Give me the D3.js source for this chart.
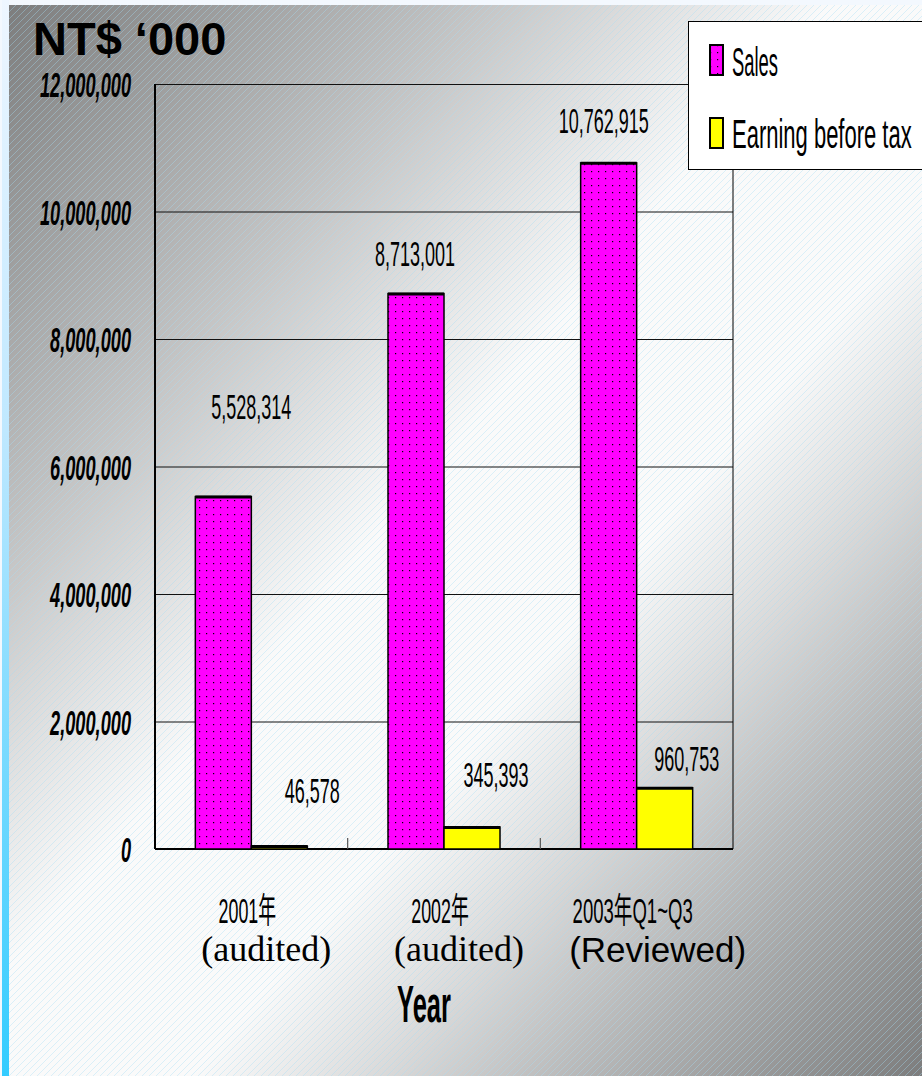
<!DOCTYPE html>
<html>
<head>
<meta charset="utf-8">
<script src="https://cdn.jsdelivr.net/npm/d3@7"></script>
<style>
  html, body { margin: 0; padding: 0; background: #f3f8fe; }
  svg { display: block; }
</style>
</head>
<body>
<svg id="chart" width="922" height="1076"></svg>
<script>
// ---- data ----
const categories = ["2001年", "2002年", "2003年Q1~Q3"];
const categoryNotes = ["(audited)", "(audited)", "(Reviewed)"];
const seriesNames = ["Sales", "Earning before tax"];
const sales = [5528314, 8713001, 10762915];
const earnings = [46578, 345393, 960753];
const yTicks = [0, 2000000, 4000000, 6000000, 8000000, 10000000, 12000000];
const unitLabel = "NT$ \u2018000";
const axisTitle = "Year";

// ---- layout ----
const W = 922, H = 1076;
const plot = { left: 155, right: 733, top: 84, bottom: 849 };
// value-label nudges relative to the top centre of each bar, [dx, dy]
const salesLabelNudge = [[28, -78], [-1, -28], [-5, -30]];
const earningsLabelNudge = [[33, -43], [24, -40], [22, -17]];

const SANS = "'Liberation Sans', Arial, 'Noto Sans CJK TC', sans-serif";
const SERIF = "'Liberation Serif', 'Times New Roman', serif";
const colors = { Sales: "#ff00ff", "Earning before tax": "#ffff00" };

const svg = d3.select("#chart");
const defs = svg.append("defs");

// background gradient: grey corners, white diagonal band
const bg = defs.append("linearGradient").attr("id", "bgGrad")
  .attr("x1", 0).attr("y1", 0).attr("x2", 1).attr("y2", 1);
[[0, "#7d7d7d"], [0.45, "#fafafa"], [0.6, "#fafafa"], [1, "#7d7d7d"]]
  .forEach(([o, c]) => bg.append("stop").attr("offset", o).attr("stop-color", c));

// edge strip gradient
const strip = defs.append("linearGradient").attr("id", "stripGrad")
  .attr("x1", 0).attr("y1", 0).attr("x2", 0).attr("y2", 1);
[[0, "#eef6ff"], [0.4, "#bfe8ff"], [1, "#33ccff"]]
  .forEach(([o, c]) => strip.append("stop").attr("offset", o).attr("stop-color", c));

// diagonal hatch
const hatch = defs.append("pattern").attr("id", "hatch")
  .attr("patternUnits", "userSpaceOnUse").attr("width", 7).attr("height", 7);
hatch.append("path").attr("d", "M-1,1 L1,-1 M0,7 L7,0 M6,8 L8,6")
  .attr("stroke", "#a6def4").attr("stroke-width", 1).attr("stroke-opacity", 0.38);

// dotted fill for sales bars
const dots = defs.append("pattern").attr("id", "salesDots")
  .attr("patternUnits", "userSpaceOnUse").attr("width", 7).attr("height", 7);
dots.append("rect").attr("width", 7).attr("height", 7).attr("fill", colors.Sales);
dots.append("rect").attr("x", 3).attr("y", 3).attr("width", 1.2).attr("height", 1.2).attr("fill", "#000");

// ---- background ----
svg.append("rect").attr("x", 2).attr("y", 0).attr("width", 7).attr("height", H).attr("fill", "url(#stripGrad)");
svg.append("rect").attr("x", 9).attr("y", 5).attr("width", W - 9).attr("height", H - 5).attr("fill", "url(#bgGrad)");
svg.append("rect").attr("x", 9).attr("y", 5).attr("width", W - 9).attr("height", H - 5).attr("fill", "url(#hatch)");

// ---- scales ----
const x0 = d3.scaleBand().domain(categories).range([plot.left, plot.right]).paddingInner(0).paddingOuter(0);
const x1 = d3.scaleBand().domain(seriesNames).range([0, x0.bandwidth()]).paddingInner(0).paddingOuter(0.72);
const y = d3.scaleLinear().domain([0, 12000000]).range([plot.bottom, plot.top]);

// condensed text helper
function squeezed(parent, x, yy, str, opts) {
  const o = Object.assign({ size: 36, sx: 0.5, weight: "normal", style: "normal", anchor: "start", family: SANS }, opts);
  const g = parent.append("g").attr("transform", `translate(${x},${yy}) scale(${o.sx},1)`);
  return g.append("text")
    .attr("font-family", o.family).attr("font-size", o.size)
    .attr("font-weight", o.weight).attr("font-style", o.style)
    .attr("text-anchor", o.anchor).attr("fill", "#000").text(str);
}

// ---- y axis with gridlines ----
const yAxis = d3.axisLeft(y).tickValues(yTicks).tickSize(-(plot.right - plot.left)).tickFormat(d3.format(","));
const yg = svg.append("g").attr("transform", `translate(${plot.left},0)`).call(yAxis);
yg.select(".domain").remove();
yg.selectAll(".tick line").attr("stroke", "#111").attr("stroke-width", 1);
yg.selectAll(".tick text")
  .attr("x", 0).attr("dy", "0.36em")
  .attr("transform", "translate(-24,0) scale(0.52,1)")
  .attr("font-family", SANS).attr("font-size", 35)
  .attr("font-weight", "bold").attr("font-style", "italic")
  .attr("text-anchor", "end").attr("fill", "#000");

// plot frame
svg.append("line").attr("x1", plot.right).attr("x2", plot.right).attr("y1", plot.top).attr("y2", plot.bottom)
  .attr("stroke", "#000").attr("stroke-width", 1);
svg.append("line").attr("x1", plot.left).attr("x2", plot.left).attr("y1", plot.top).attr("y2", plot.bottom)
  .attr("stroke", "#000").attr("stroke-width", 2);
svg.append("line").attr("x1", plot.left).attr("x2", plot.right).attr("y1", plot.bottom).attr("y2", plot.bottom)
  .attr("stroke", "#000").attr("stroke-width", 2);

// category separators on the baseline
svg.append("g").selectAll("line").data(categories.slice(1)).join("line")
  .attr("x1", d => x0(d)).attr("x2", d => x0(d))
  .attr("y1", plot.bottom).attr("y2", plot.bottom - 11)
  .attr("stroke", "#555").attr("stroke-width", 1.2);

// ---- bars ----
const seriesData = [
  { name: "Sales", values: sales, fill: "url(#salesDots)", nudge: salesLabelNudge },
  { name: "Earning before tax", values: earnings, fill: colors["Earning before tax"], nudge: earningsLabelNudge }
];

seriesData.forEach(s => {
  const g = svg.append("g");
  const recs = s.values.map((v, i) => ({ cat: categories[i], v, i }));
  g.selectAll("rect").data(recs).join("rect")
    .attr("x", d => x0(d.cat) + x1(s.name))
    .attr("y", d => y(d.v))
    .attr("width", x1.bandwidth())
    .attr("height", d => y(0) - y(d.v))
    .attr("fill", s.fill)
    .attr("stroke", "#000").attr("stroke-width", 1.5);
  // heavier top edge
  g.selectAll("line").data(recs).join("line")
    .attr("x1", d => x0(d.cat) + x1(s.name))
    .attr("x2", d => x0(d.cat) + x1(s.name) + x1.bandwidth())
    .attr("y1", d => y(d.v) + 0.5).attr("y2", d => y(d.v) + 0.5)
    .attr("stroke", "#000").attr("stroke-width", 3);
  // value labels
  recs.forEach(d => {
    const cx = x0(d.cat) + x1(s.name) + x1.bandwidth() / 2;
    squeezed(svg, cx + s.nudge[d.i][0], y(d.v) + s.nudge[d.i][1], d3.format(",")(d.v),
      { size: 36, sx: 0.5, anchor: "middle" });
  });
});

// ---- category labels ----
categories.forEach((c, i) => {
  const cx = x0(c) + x0.bandwidth() / 2;
  squeezed(svg, cx - 4, 923, c, { size: 35, sx: i < 2 ? 0.51 : 0.53, anchor: "middle" });
  if (i < 2) {
    svg.append("text").attr("x", cx + 15).attr("y", 961)
      .attr("font-family", SERIF).attr("font-size", 36).attr("text-anchor", "middle")
      .attr("fill", "#000").text(categoryNotes[i]);
  } else {
    svg.append("text").attr("x", cx + 21).attr("y", 962)
      .attr("font-family", SANS).attr("font-size", 35).attr("text-anchor", "middle")
      .attr("fill", "#000").text(categoryNotes[i]);
  }
});

// axis title and unit
squeezed(svg, (plot.left + plot.right) / 2 - 20, 1022, axisTitle, { size: 52, sx: 0.49, weight: "bold", anchor: "middle" });
svg.append("text").attr("x", 33).attr("y", 55)
  .attr("font-family", SANS).attr("font-size", 47).attr("font-weight", "bold")
  .attr("fill", "#000").text(unitLabel);

// ---- legend ----
const lg = svg.append("g");
lg.append("rect").attr("x", 688.5).attr("y", 21.5).attr("width", 240).attr("height", 148)
  .attr("fill", "#fff").attr("stroke", "#000").attr("stroke-width", 1);
const legendRows = [
  { name: seriesNames[0], fill: "url(#salesDots)", y: 45, base: 76, sx: 0.46 },
  { name: seriesNames[1], fill: colors["Earning before tax"], y: 118, base: 148, sx: 0.55 }
];
legendRows.forEach(r => {
  lg.append("rect").attr("x", 710).attr("y", r.y).attr("width", 13).attr("height", 30)
    .attr("fill", r.fill).attr("stroke", "#000").attr("stroke-width", 2);
  squeezed(lg, 732, r.base, r.name, { size: 40, sx: r.sx });
});
</script>
</body>
</html>
